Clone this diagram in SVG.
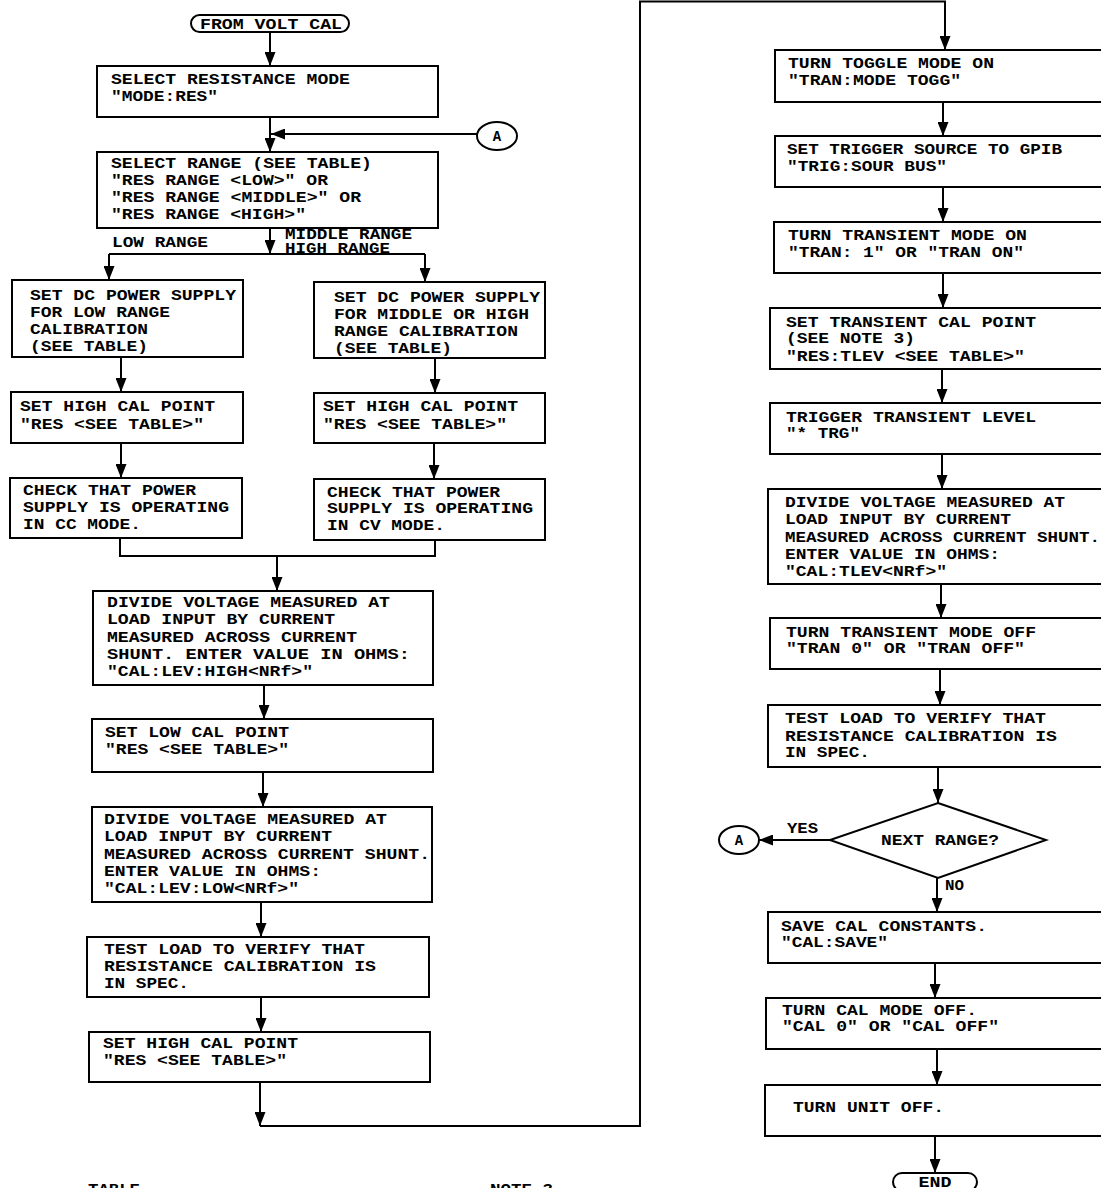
<svg xmlns="http://www.w3.org/2000/svg" width="1101" height="1188" viewBox="0 0 1101 1188" xml:space="preserve">
<style>
.box{fill:#fff;stroke:#000;stroke-width:2}
.t{font-family:"Liberation Mono","DejaVu Sans Mono",monospace;font-size:14px;font-weight:bold;fill:#000}
.m{text-anchor:middle}
.c{fill:none;stroke:#000;stroke-width:2}
.a{marker-end:url(#ah)}
</style>
<defs>
<marker id="ah" markerUnits="userSpaceOnUse" markerWidth="14" markerHeight="11" refX="14" refY="5.5" orient="auto"><path d="M0,0 L14,5.5 L0,11 z" fill="#000"/></marker>
</defs>
<rect width="1101" height="1188" fill="#fff"/>
<g id="connectors">
<path class="c a" d="M270,32 V66"/>
<path class="c a" d="M270,117 V152"/>
<path class="c a" d="M477,134 H271"/>
<path class="c a" d="M270,228 V254"/>
<path class="c" d="M109,254 H425"/>
<path class="c a" d="M109,254 V280"/>
<path class="c a" d="M425,254 V282"/>
<path class="c a" d="M121,357 V392"/>
<path class="c a" d="M435,358 V393"/>
<path class="c a" d="M121,443 V478"/>
<path class="c a" d="M434,443 V479"/>
<path class="c" d="M120,538 V556 H435 V540"/>
<path class="c a" d="M277,556 V591"/>
<path class="c a" d="M264,685 V719"/>
<path class="c a" d="M263,772 V807"/>
<path class="c a" d="M261,902 V937"/>
<path class="c a" d="M261,997 V1032"/>
<path class="c a" d="M260,1082 V1126"/>
<path class="c a" d="M260,1126 H640 V1.5 H945 V50"/>
<path class="c a" d="M943,102 V136"/>
<path class="c a" d="M943,187 V222"/>
<path class="c a" d="M943,273 V308"/>
<path class="c a" d="M942,369 V403"/>
<path class="c a" d="M942,454 V489"/>
<path class="c a" d="M941,584 V618"/>
<path class="c a" d="M940,669 V705"/>
<path class="c a" d="M938,767 V803"/>
<path class="c a" d="M830,840 H759"/>
<path class="c a" d="M937,878 V912"/>
<path class="c a" d="M935,963 V998"/>
<path class="c a" d="M937,1049 V1085"/>
<path class="c a" d="M935,1136 V1173"/>
<text class="t" x="112" y="247" textLength="96" lengthAdjust="spacingAndGlyphs">LOW RANGE</text>
<text class="t" x="285" y="239" textLength="127" lengthAdjust="spacingAndGlyphs">MIDDLE RANGE</text>
<text class="t" x="285" y="253" textLength="105" lengthAdjust="spacingAndGlyphs">HIGH RANGE</text>
<text class="t" x="787" y="833" textLength="31" lengthAdjust="spacingAndGlyphs">YES</text>
<text class="t" x="945" y="890" textLength="19" lengthAdjust="spacingAndGlyphs">NO</text>
</g>
<g id="start"><rect class="box" x="191" y="15" width="158" height="17" rx="8.5"/><text class="t m" x="271" y="29" textLength="142" lengthAdjust="spacingAndGlyphs">FROM VOLT CAL</text></g>
<g id="n1"><rect class="box" x="97" y="66" width="341" height="51"/><text class="t" x="111" y="84" textLength="239" lengthAdjust="spacingAndGlyphs">SELECT RESISTANCE MODE</text><text class="t" x="111" y="101" textLength="107" lengthAdjust="spacingAndGlyphs">"MODE:RES"</text></g>
<g id="connA1"><ellipse class="box" cx="497" cy="136" rx="20" ry="14"/><text class="t m" x="497" y="141">A</text></g>
<g id="n2"><rect class="box" x="97" y="152" width="341" height="76"/><text class="t" x="111" y="168" textLength="261" lengthAdjust="spacingAndGlyphs">SELECT RANGE (SEE TABLE)</text><text class="t" x="111" y="185" textLength="217" lengthAdjust="spacingAndGlyphs">"RES RANGE &lt;LOW&gt;" OR</text><text class="t" x="111" y="202" textLength="250" lengthAdjust="spacingAndGlyphs">"RES RANGE &lt;MIDDLE&gt;" OR</text><text class="t" x="111" y="219" textLength="195" lengthAdjust="spacingAndGlyphs">"RES RANGE &lt;HIGH&gt;"</text></g>
<g id="n3L"><rect class="box" x="12" y="280" width="231" height="77"/><text class="t" x="30" y="300" textLength="206" lengthAdjust="spacingAndGlyphs">SET DC POWER SUPPLY</text><text class="t" x="30" y="317" textLength="140" lengthAdjust="spacingAndGlyphs">FOR LOW RANGE</text><text class="t" x="30" y="334" textLength="118" lengthAdjust="spacingAndGlyphs">CALIBRATION</text><text class="t" x="30" y="351" textLength="118" lengthAdjust="spacingAndGlyphs">(SEE TABLE)</text></g>
<g id="n3R"><rect class="box" x="314" y="282" width="231" height="76"/><text class="t" x="334" y="302" textLength="206" lengthAdjust="spacingAndGlyphs">SET DC POWER SUPPLY</text><text class="t" x="334" y="319" textLength="195" lengthAdjust="spacingAndGlyphs">FOR MIDDLE OR HIGH</text><text class="t" x="334" y="336" textLength="184" lengthAdjust="spacingAndGlyphs">RANGE CALIBRATION</text><text class="t" x="334" y="353" textLength="118" lengthAdjust="spacingAndGlyphs">(SEE TABLE)</text></g>
<g id="n4L"><rect class="box" x="11" y="392" width="232" height="51"/><text class="t" x="20" y="411" textLength="195" lengthAdjust="spacingAndGlyphs">SET HIGH CAL POINT</text><text class="t" x="20" y="429" textLength="184" lengthAdjust="spacingAndGlyphs">"RES &lt;SEE TABLE&gt;"</text></g>
<g id="n4R"><rect class="box" x="314" y="393" width="231" height="50"/><text class="t" x="323" y="411" textLength="195" lengthAdjust="spacingAndGlyphs">SET HIGH CAL POINT</text><text class="t" x="323" y="429" textLength="184" lengthAdjust="spacingAndGlyphs">"RES &lt;SEE TABLE&gt;"</text></g>
<g id="n5L"><rect class="box" x="10" y="478" width="232" height="60"/><text class="t" x="23" y="495" textLength="173" lengthAdjust="spacingAndGlyphs">CHECK THAT POWER</text><text class="t" x="23" y="512" textLength="206" lengthAdjust="spacingAndGlyphs">SUPPLY IS OPERATING</text><text class="t" x="23" y="529" textLength="118" lengthAdjust="spacingAndGlyphs">IN CC MODE.</text></g>
<g id="n5R"><rect class="box" x="314" y="479" width="231" height="61"/><text class="t" x="327" y="497" textLength="173" lengthAdjust="spacingAndGlyphs">CHECK THAT POWER</text><text class="t" x="327" y="513" textLength="206" lengthAdjust="spacingAndGlyphs">SUPPLY IS OPERATING</text><text class="t" x="327" y="530" textLength="118" lengthAdjust="spacingAndGlyphs">IN CV MODE.</text></g>
<g id="n6"><rect class="box" x="93" y="591" width="340" height="94"/><text class="t" x="107" y="607" textLength="283" lengthAdjust="spacingAndGlyphs">DIVIDE VOLTAGE MEASURED AT</text><text class="t" x="107" y="624" textLength="228" lengthAdjust="spacingAndGlyphs">LOAD INPUT BY CURRENT</text><text class="t" x="107" y="642" textLength="250" lengthAdjust="spacingAndGlyphs">MEASURED ACROSS CURRENT</text><text class="t" x="107" y="659" textLength="303" lengthAdjust="spacingAndGlyphs">SHUNT.  ENTER VALUE IN OHMS:</text><text class="t" x="107" y="676" textLength="206" lengthAdjust="spacingAndGlyphs">"CAL:LEV:HIGH&lt;NRf&gt;"</text></g>
<g id="n7"><rect class="box" x="92" y="719" width="341" height="53"/><text class="t" x="105" y="737" textLength="184" lengthAdjust="spacingAndGlyphs">SET LOW CAL POINT</text><text class="t" x="105" y="754" textLength="184" lengthAdjust="spacingAndGlyphs">"RES &lt;SEE TABLE&gt;"</text></g>
<g id="n8"><rect class="box" x="92" y="807" width="340" height="95"/><text class="t" x="104" y="824" textLength="283" lengthAdjust="spacingAndGlyphs">DIVIDE VOLTAGE MEASURED AT</text><text class="t" x="104" y="841" textLength="228" lengthAdjust="spacingAndGlyphs">LOAD INPUT BY CURRENT</text><text class="t" x="104" y="859" textLength="326" lengthAdjust="spacingAndGlyphs">MEASURED ACROSS CURRENT SHUNT.</text><text class="t" x="104" y="876" textLength="217" lengthAdjust="spacingAndGlyphs">ENTER VALUE IN OHMS:</text><text class="t" x="104" y="893" textLength="195" lengthAdjust="spacingAndGlyphs">"CAL:LEV:LOW&lt;NRf&gt;"</text></g>
<g id="n9"><rect class="box" x="87" y="937" width="342" height="60"/><text class="t" x="104" y="954" textLength="261" lengthAdjust="spacingAndGlyphs">TEST LOAD TO VERIFY THAT</text><text class="t" x="104" y="971" textLength="272" lengthAdjust="spacingAndGlyphs">RESISTANCE CALIBRATION IS</text><text class="t" x="104" y="988" textLength="85" lengthAdjust="spacingAndGlyphs">IN SPEC.</text></g>
<g id="n10"><rect class="box" x="89" y="1032" width="341" height="50"/><text class="t" x="103" y="1048" textLength="195" lengthAdjust="spacingAndGlyphs">SET HIGH CAL POINT</text><text class="t" x="103" y="1065" textLength="184" lengthAdjust="spacingAndGlyphs">"RES &lt;SEE TABLE&gt;"</text></g>
<g id="r1"><rect class="box" x="775" y="50" width="340" height="52"/><text class="t" x="788" y="68" textLength="206" lengthAdjust="spacingAndGlyphs">TURN TOGGLE MODE ON</text><text class="t" x="788" y="85" textLength="173" lengthAdjust="spacingAndGlyphs">"TRAN:MODE TOGG"</text></g>
<g id="r2"><rect class="box" x="775" y="136" width="340" height="51"/><text class="t" x="787" y="154" textLength="275" lengthAdjust="spacingAndGlyphs">SET TRIGGER SOURCE TO GPIB</text><text class="t" x="787" y="171" textLength="160" lengthAdjust="spacingAndGlyphs">"TRIG:SOUR BUS"</text></g>
<g id="r3"><rect class="box" x="774" y="222" width="341" height="51"/><text class="t" x="788" y="240" textLength="239" lengthAdjust="spacingAndGlyphs">TURN TRANSIENT MODE ON</text><text class="t" x="788" y="257" textLength="236" lengthAdjust="spacingAndGlyphs">"TRAN: 1" OR "TRAN ON"</text></g>
<g id="r4"><rect class="box" x="770" y="308" width="345" height="61"/><text class="t" x="786" y="327" textLength="250" lengthAdjust="spacingAndGlyphs">SET TRANSIENT CAL POINT</text><text class="t" x="786" y="343" textLength="129" lengthAdjust="spacingAndGlyphs">(SEE NOTE 3)</text><text class="t" x="786" y="361" textLength="239" lengthAdjust="spacingAndGlyphs">"RES:TLEV &lt;SEE TABLE&gt;"</text></g>
<g id="r5"><rect class="box" x="770" y="403" width="345" height="51"/><text class="t" x="786" y="422" textLength="250" lengthAdjust="spacingAndGlyphs">TRIGGER TRANSIENT LEVEL</text><text class="t" x="786" y="438" textLength="74" lengthAdjust="spacingAndGlyphs">"* TRG"</text></g>
<g id="r6"><rect class="box" x="768" y="489" width="347" height="95"/><text class="t" x="785" y="507" textLength="280" lengthAdjust="spacingAndGlyphs">DIVIDE VOLTAGE MEASURED AT</text><text class="t" x="785" y="524" textLength="226" lengthAdjust="spacingAndGlyphs">LOAD INPUT BY CURRENT</text><text class="t" x="785" y="542" textLength="315" lengthAdjust="spacingAndGlyphs">MEASURED ACROSS CURRENT SHUNT.</text><text class="t" x="785" y="559" textLength="215" lengthAdjust="spacingAndGlyphs">ENTER VALUE IN OHMS:</text><text class="t" x="785" y="576" textLength="162" lengthAdjust="spacingAndGlyphs">"CAL:TLEV&lt;NRf&gt;"</text></g>
<g id="r7"><rect class="box" x="770" y="618" width="345" height="51"/><text class="t" x="786" y="637" textLength="250" lengthAdjust="spacingAndGlyphs">TURN TRANSIENT MODE OFF</text><text class="t" x="786" y="653" textLength="239" lengthAdjust="spacingAndGlyphs">"TRAN 0" OR "TRAN OFF"</text></g>
<g id="r8"><rect class="box" x="768" y="705" width="347" height="62"/><text class="t" x="785" y="723" textLength="261" lengthAdjust="spacingAndGlyphs">TEST LOAD TO VERIFY THAT</text><text class="t" x="785" y="741" textLength="272" lengthAdjust="spacingAndGlyphs">RESISTANCE CALIBRATION IS</text><text class="t" x="785" y="757" textLength="85" lengthAdjust="spacingAndGlyphs">IN SPEC.</text></g>
<g id="d1"><polygon class="box" points="938,803 1046,840 938,878 830,840"/><text class="t m" x="940" y="845" textLength="118" lengthAdjust="spacingAndGlyphs">NEXT RANGE?</text></g>
<g id="connA2"><ellipse class="box" cx="739" cy="840" rx="20" ry="14"/><text class="t m" x="739" y="845">A</text></g>
<g id="r9"><rect class="box" x="768" y="912" width="347" height="51"/><text class="t" x="781" y="931" textLength="206" lengthAdjust="spacingAndGlyphs">SAVE CAL CONSTANTS.</text><text class="t" x="781" y="947" textLength="107" lengthAdjust="spacingAndGlyphs">"CAL:SAVE"</text></g>
<g id="r10"><rect class="box" x="766" y="998" width="349" height="51"/><text class="t" x="782" y="1015" textLength="195" lengthAdjust="spacingAndGlyphs">TURN CAL MODE OFF.</text><text class="t" x="782" y="1031" textLength="217" lengthAdjust="spacingAndGlyphs">"CAL 0" OR "CAL OFF"</text></g>
<g id="r11"><rect class="box" x="765" y="1085" width="350" height="51"/><text class="t" x="793" y="1112" textLength="151" lengthAdjust="spacingAndGlyphs">TURN UNIT OFF.</text></g>
<g id="end"><rect class="box" x="893" y="1173" width="84" height="18" rx="9"/><text class="t m" x="935" y="1187" textLength="33" lengthAdjust="spacingAndGlyphs">END</text></g>
<g id="notes"><text class="t" x="88" y="1194" textLength="52" lengthAdjust="spacingAndGlyphs">TABLE</text><text class="t" x="490" y="1194" textLength="63" lengthAdjust="spacingAndGlyphs">NOTE 3</text></g>
</svg>
